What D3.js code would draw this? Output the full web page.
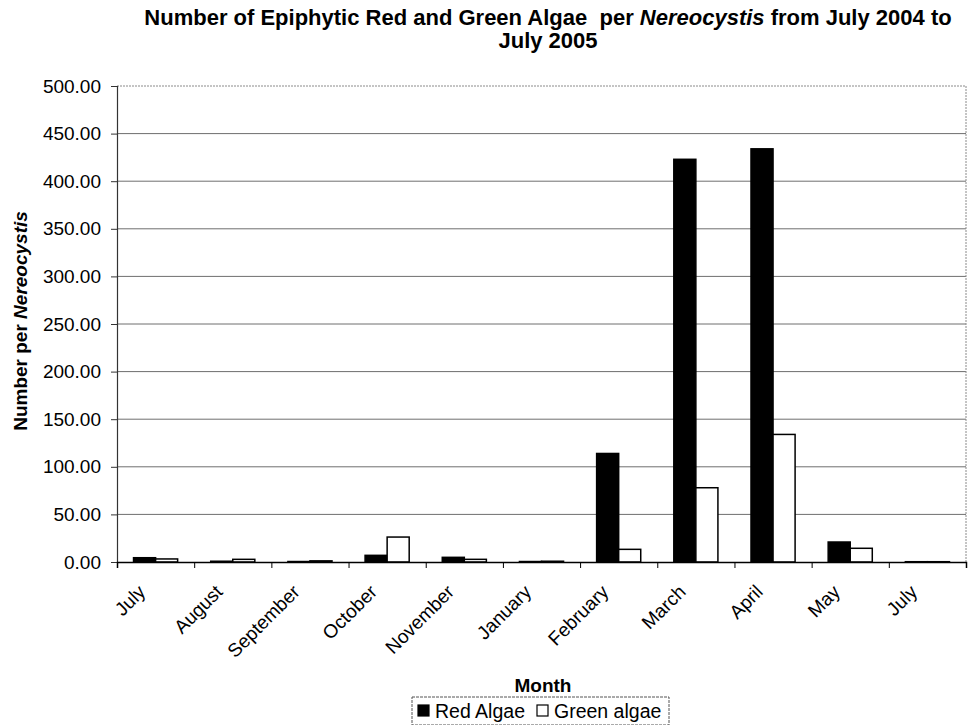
<!DOCTYPE html>
<html>
<head>
<meta charset="utf-8">
<script src="https://cdn.jsdelivr.net/npm/d3@7"></script>
<style>
  html, body { margin: 0; padding: 0; background: #fff; }
  svg { display: block; font-family: "Liberation Sans", Arial, sans-serif; }
</style>
</head>
<body>
<svg id="chart" width="970" height="725"></svg>
<script>
// Monthly sampling, July 2004 to July 2005
const months = ["July", "August", "September", "October", "November", "January",
                "February", "March", "April", "May", "July"];
const redAlgae   = [4.5, 0.8, 0.5, 7.0, 4.9, 0.5, 114, 423, 434, 21, 0.3];
const greenAlgae = [3.2, 2.8, 1.2, 26.2, 2.8, 0.8, 13.3, 78, 134, 14.4, 0.3];
const yTicks = [0, 50, 100, 150, 200, 250, 300, 350, 400, 450, 500];
const seriesNames = ["Red Algae", "Green algae"];

const svg = d3.select("#chart");
const plot = { left: 117, right: 966, top: 86, bottom: 562 };

const x0 = d3.scaleBand()
  .domain(d3.range(months.length))
  .range([plot.left, plot.right])
  .padding(0);

const x1 = d3.scaleBand()
  .domain([0, 1])
  .range([0, x0.bandwidth()])
  .paddingInner(0)
  .paddingOuter(0.75);

const y = d3.scaleLinear().domain([0, 500]).range([plot.bottom, plot.top]);

// horizontal gridlines
svg.append("g")
  .selectAll("line")
  .data(yTicks.filter(d => d > 0 && d < 500))
  .join("line")
  .attr("x1", plot.left).attr("x2", plot.right)
  .attr("y1", d => y(d)).attr("y2", d => y(d))
  .attr("stroke", "#6e6e6e").attr("stroke-width", 1);

// plot frame (top and right)
svg.append("path")
  .attr("d", `M${plot.left},${y(500)}H${plot.right}V${plot.bottom}`)
  .attr("fill", "none")
  .attr("stroke", "#8a8a8a")
  .attr("stroke-width", 1)
  .attr("stroke-dasharray", "2,1");

// bars
const groups = svg.append("g")
  .selectAll("g")
  .data(months.map((m, i) => ({ i, vals: [redAlgae[i], greenAlgae[i]] })))
  .join("g")
  .attr("transform", d => `translate(${x0(d.i)},0)`);

groups.selectAll("rect")
  .data(d => d.vals.map((v, s) => ({ v, s })))
  .join("rect")
  .attr("x", d => x1(d.s))
  .attr("width", x1.bandwidth())
  .attr("y", d => y(d.v))
  .attr("height", d => y(0) - y(d.v))
  .attr("fill", d => d.s === 0 ? "#000" : "#fff")
  .attr("stroke", "#000")
  .attr("stroke-width", 1.5);

// y axis
const yAxis = d3.axisLeft(y)
  .tickValues(yTicks)
  .tickSize(6)
  .tickPadding(10)
  .tickFormat(d3.format(".2f"));

const gy = svg.append("g")
  .attr("transform", `translate(${plot.left},0)`)
  .call(yAxis);
gy.select(".domain").attr("stroke", "#333").attr("stroke-width", 1.2);
gy.selectAll(".tick line").attr("stroke", "#333");
gy.selectAll(".tick text")
  .attr("font-size", 19)
  .attr("font-family", "Liberation Sans, Arial, sans-serif")
  .attr("fill", "#000");

// x axis: ticks at category boundaries, labels at category centres
const xb = d3.scaleLinear().domain([0, months.length]).range([plot.left, plot.right]);
const gx = svg.append("g")
  .attr("transform", `translate(0,${plot.bottom})`)
  .call(d3.axisBottom(xb).tickValues(d3.range(months.length + 1))
    .tickSize(6).tickFormat(""));
gx.select(".domain").attr("stroke", "#000").attr("stroke-width", 1.5);
gx.selectAll(".tick line").attr("stroke", "#000");

svg.append("g")
  .selectAll("text")
  .data(months)
  .join("text")
  .attr("transform", (d, i) => `translate(${x0(i) + x0.bandwidth() / 2 - 9},${plot.bottom + 31}) rotate(-45)`)
  .attr("text-anchor", "end")
  .attr("font-size", 19)
  .attr("fill", "#000")
  .text(d => d);

// title
const title = svg.append("text")
  .attr("text-anchor", "middle")
  .attr("font-size", 22)
  .attr("font-weight", "bold")
  .attr("fill", "#000");
const line1 = title.append("tspan").attr("x", 548).attr("y", 25);
line1.append("tspan").text("Number of Epiphytic Red and Green Algae\u00a0 per ");
line1.append("tspan").attr("font-style", "italic").text("Nereocystis");
line1.append("tspan").text(" from July 2004 to");
title.append("tspan").attr("x", 548).attr("y", 48).text("July 2005");

// y axis title
const yTitle = svg.append("text")
  .attr("transform", `translate(27,321) rotate(-90)`)
  .attr("text-anchor", "middle")
  .attr("font-size", 19)
  .attr("font-weight", "bold")
  .attr("fill", "#000");
yTitle.append("tspan").text("Number per ");
yTitle.append("tspan").attr("font-style", "italic").text("Nereocystis");

// x axis title
svg.append("text")
  .attr("x", 543).attr("y", 692)
  .attr("text-anchor", "middle")
  .attr("font-size", 19)
  .attr("font-weight", "bold")
  .attr("fill", "#000")
  .text("Month");

// legend
const legend = svg.append("g").attr("transform", "translate(412,697)");
legend.append("rect")
  .attr("x", 0).attr("y", 0).attr("width", 257).attr("height", 28)
  .attr("fill", "#fff").attr("stroke", "#555").attr("stroke-width", 1)
  .attr("stroke-dasharray", "3,1");
const legendItems = legend.selectAll("g.item")
  .data(seriesNames)
  .join("g")
  .attr("class", "item")
  .attr("transform", (d, i) => `translate(${i === 0 ? 6 : 125},0)`);
legendItems.append("rect")
  .attr("x", 0).attr("y", 8).attr("width", 11).attr("height", 11)
  .attr("fill", (d, i) => i === 0 ? "#000" : "#fff")
  .attr("stroke", "#000").attr("stroke-width", 1.2);
legendItems.append("text")
  .attr("x", 17).attr("y", 21)
  .attr("font-size", 19.5)
  .attr("fill", "#000")
  .text(d => d);
</script>
</body>
</html>
